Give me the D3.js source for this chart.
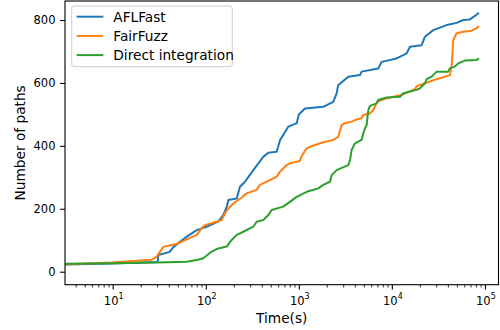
<!DOCTYPE html>
<html lang="en">
<head>
    <meta charset="UTF-8">
    <title>Number of paths</title>
    <script src="https://cdn.jsdelivr.net/npm/d3@7/dist/d3.min.js"></script>
    <style type="text/css">
        body { margin: 0; background: #fff; }
        svg { font-family: "DejaVu Sans", sans-serif; }
        .line { fill: none; stroke-width: 2px; stroke-linejoin: round; }
        .tick-label { font-size: 11.5px; fill: #000; }
        .axis-label { font-size: 13.7px; fill: #000; }
        .legend-text { font-size: 13.7px; fill: #000; }
    </style>
</head>
<body>
    <div id="diagram"></div>
    <script type="text/javascript">
        // AFLFast
        var aflTime = [3.1, 10, 30.4, 30.9, 41, 45, 62, 80, 102, 136, 154, 168, 175, 215, 233, 264, 324, 415, 470, 578,
                       628, 770, 909, 950, 1000, 1164, 1830, 2345, 2550, 2650, 3400, 4540, 4730, 7140, 7770, 11260,
                       14420, 15640, 20890, 22680, 27860, 38800, 49700, 58500, 69000, 78000, 86400];
        var aflPaths = [23, 26, 31, 53, 63, 79, 111, 132, 143, 159, 180, 206, 228, 233, 270, 286, 323, 365, 378, 381,
                        418, 461, 470, 472, 500, 519, 524, 540, 567, 593, 620, 625, 636, 646, 667, 678,
                        694, 715, 720, 747, 768, 784, 791, 800, 802, 813, 823];
        // FairFuzz
        var fairTime = [3.1, 10, 19.6, 26.2, 29.7, 35, 43, 50.7, 62.4, 80, 90, 98, 131, 148, 161, 175, 198, 243, 275, 352,
                        382, 490, 578, 628, 741, 803, 1029, 1073, 1215, 1318, 1761, 2345, 2653, 2887, 3133, 3697, 4012,
                        4734, 4927, 5815, 6310, 6966, 8080, 10350, 12740, 13820, 17700, 18470, 22680, 30280, 42090,
                        43910, 45700, 49690, 58480, 71940, 81470, 86400];
        var fairPaths = [24, 29, 36, 38, 48, 79, 85, 90, 103, 117, 138, 148, 159, 164, 186, 201, 217, 236, 249, 260,
                         276, 291, 302, 318, 339, 345, 352, 368, 392, 397, 410, 419, 429, 466, 472, 477, 482,
                         488, 498, 503, 514, 540, 548, 556, 562, 567, 580, 590, 599, 612, 625,
                         652, 736, 758, 763, 766, 774, 781];
        // Direct integration
        var directTime = [3.1, 10, 29.7, 62.4, 80, 94, 116, 136, 168, 190, 215, 253, 324, 352, 415, 470, 510, 680, 803, 948,
                          1215, 1618, 1832, 2163, 2255, 2551, 3398, 3550, 3697, 4012, 4734, 4927, 5141, 5360, 5578, 5815,
                          6865, 7139, 8790, 12220, 13260, 18470, 20040, 22680, 23650, 26760, 30280, 40350, 42090, 47630,
                          51670, 60950, 81470, 86400];
        var directPaths = [25, 27, 29, 32, 37, 43, 64, 74, 80, 101, 117, 127, 143, 159, 164, 180, 196, 207, 222, 238,
                           254, 265, 276, 286, 307, 323, 339, 355, 387, 408, 419, 440, 456, 466, 514, 527,
                           535, 546, 554, 556, 567, 578, 583, 599, 612, 620, 636, 636, 647, 652,
                           662, 671, 673, 678];

        var seriesNames = ["AFLFast", "FairFuzz", "Direct integration"];
        var colors = ["#1f77b4", "#ff7f0e", "#2ca02c"];
        var xMajor = [1, 2, 3, 4, 5];      // exponents of 10
        var yTicks = [0, 200, 400, 600, 800];

        function toPoints(ts, vs) {
            return ts.map(function (t, i) { return {t: t, v: vs[i]}; });
        }
        var mdata = [toPoints(aflTime, aflPaths), toPoints(fairTime, fairPaths), toPoints(directTime, directPaths)];

        var width = 500, height = 330;
        var margin = {top: 1, right: 1.5, bottom: 45.3, left: 65};
        var chart_width = width - margin.left - margin.right;
        var chart_height = height - margin.top - margin.bottom;

        var svg = d3.select("#diagram").append("svg")
            .attr("width", width)
            .attr("height", height);

        var diagram = svg.append("g")
            .attr("transform", "translate(" + margin.left + "," + margin.top + ")");

        var x = d3.scaleLog()
            .domain([3.07, 1.4e5])
            .range([0, chart_width]);

        var y = d3.scaleLinear()
            .domain([-41.3, 860.5])
            .range([chart_height, 0]);

        diagram.append("clipPath").attr("id", "clip")
            .append("rect").attr("width", chart_width).attr("height", chart_height);

        var lineFunction = d3.line()
            .x(function (d) { return x(d.t); })
            .y(function (d) { return y(d.v); });

        // lines, drawn in legend order so green ends on top
        diagram.append("g")
            .attr("clip-path", "url(#clip)")
            .selectAll(".line")
            .data(mdata)
            .enter()
            .append("path")
            .attr("class", "line")
            .attr("stroke", function (d, i) { return colors[i]; })
            .attr("d", lineFunction);

        // minor ticks on log axis
        var xMinor = [];
        for (var e = 0; e <= 5; e++) {
            for (var k = 2; k <= 9; k++) {
                var v = k * Math.pow(10, e);
                if (v >= x.domain()[0] && v <= x.domain()[1]) xMinor.push(v);
            }
        }

        var xAxisMinor = diagram.append("g")
            .attr("transform", "translate(0," + chart_height + ")")
            .call(d3.axisBottom(x).tickValues(xMinor).tickSize(2.8).tickFormat(""));
        xAxisMinor.select(".domain").remove();
        xAxisMinor.selectAll("line").attr("stroke-width", 0.8);

        var xAxis = diagram.append("g")
            .attr("transform", "translate(0," + chart_height + ")")
            .call(d3.axisBottom(x)
                .tickValues(xMajor.map(function (p) { return Math.pow(10, p); }))
                .tickSize(4.9).tickFormat(""));
        xAxis.select(".domain").remove();
        xAxis.selectAll("line").attr("stroke-width", 1.1);

        var yAxis = diagram.append("g")
            .call(d3.axisLeft(y).tickValues(yTicks).tickSize(4.9).tickFormat(""));
        yAxis.select(".domain").remove();
        yAxis.selectAll("line").attr("stroke-width", 1.1);

        // x tick labels as 10^n
        var xl = diagram.selectAll(".xlab")
            .data(xMajor)
            .enter()
            .append("text")
            .attr("class", "tick-label")
            .attr("text-anchor", "middle")
            .attr("x", function (p) { return x(Math.pow(10, p)) + 1; })
            .attr("y", chart_height + 20.3);
        xl.append("tspan").text("10");
        xl.append("tspan")
            .attr("dy", -5.7)
            .attr("font-size", "8px")
            .text(function (p) { return p; });

        diagram.selectAll(".ylab")
            .data(yTicks)
            .enter()
            .append("text")
            .attr("class", "tick-label")
            .attr("text-anchor", "end")
            .attr("x", -9.5)
            .attr("y", function (d) { return y(d); })
            .attr("dy", "0.36em")
            .text(function (d) { return d; });

        // frame
        diagram.append("rect")
            .attr("width", chart_width)
            .attr("height", chart_height)
            .attr("fill", "none")
            .attr("stroke", "#000")
            .attr("stroke-width", 1.1);

        svg.append("text")
            .attr("class", "axis-label")
            .attr("text-anchor", "middle")
            .attr("x", margin.left + chart_width / 2)
            .attr("y", 323)
            .text("Time(s)");

        svg.append("text")
            .attr("class", "axis-label")
            .attr("text-anchor", "middle")
            .attr("transform", "translate(25," + (margin.top + chart_height / 2) + ") rotate(-90)")
            .text("Number of paths");

        // legend
        var legend = diagram.append("g")
            .attr("transform", "translate(" + (71.7 - margin.left) + "," + (6 - margin.top) + ")");
        legend.append("rect")
            .attr("width", 160.6)
            .attr("height", 60.7)
            .attr("rx", 2.5)
            .attr("fill", "#fff")
            .attr("fill-opacity", 0.8)
            .attr("stroke", "#cccccc")
            .attr("stroke-width", 1);

        var item = legend.selectAll(".item")
            .data(seriesNames)
            .enter()
            .append("g")
            .attr("transform", function (d, i) { return "translate(0," + (10.7 + i * 19.2) + ")"; });
        item.append("line")
            .attr("x1", 5)
            .attr("x2", 31.6)
            .attr("stroke-width", 2)
            .attr("stroke", function (d, i) { return colors[i]; });
        item.append("text")
            .attr("class", "legend-text")
            .attr("x", 41.6)
            .attr("y", 5)
            .text(function (d) { return d; });
    </script>
</body>
</html>
